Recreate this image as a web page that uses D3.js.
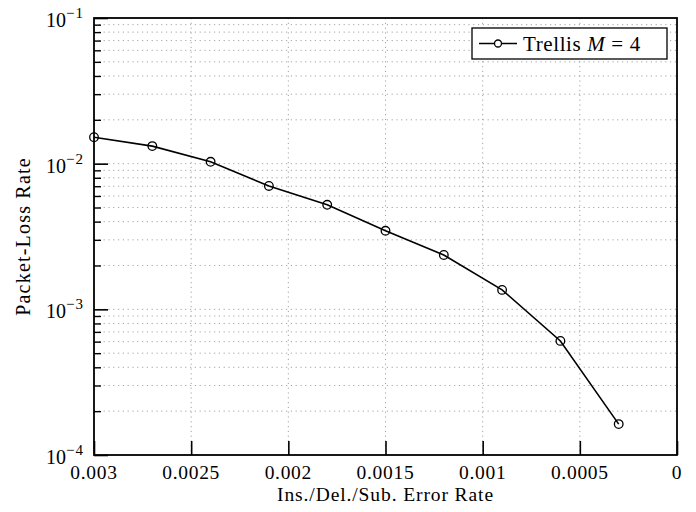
<!DOCTYPE html>
<html>
<head>
<meta charset="utf-8">
<script src="https://cdn.jsdelivr.net/npm/d3@7"></script>
<style>
  body { margin: 0; background: #fff; }
</style>
</head>
<body>
<div id="chart"></div>
<script>
// Chart data
var errorRates = [0.003, 0.0027, 0.0024, 0.0021, 0.0018, 0.0015, 0.0012, 0.0009, 0.0006, 0.0003];
var lossRates = [0.0152, 0.0132, 0.0103, 0.00703, 0.00522, 0.00346, 0.00236, 0.00136, 0.000607, 0.000163];
var seriesName = "Trellis";
var xTicks = [0.003, 0.0025, 0.002, 0.0015, 0.001, 0.0005, 0];
var xTickLabels = ["0.003", "0.0025", "0.002", "0.0015", "0.001", "0.0005", "0"];
var yDecades = [1e-4, 1e-3, 1e-2, 1e-1];
var yExponents = ["−4", "−3", "−2", "−1"];

var FONT = "'Liberation Serif', 'DejaVu Serif', serif";

var svg = d3.select("#chart")
  .append("svg")
  .attr("width", 696)
  .attr("height", 512)
  .attr("font-family", FONT);

var margin = { top: 18, right: 19, bottom: 57, left: 94 };
var width = 696 - margin.left - margin.right;
var height = 512 - margin.top - margin.bottom;

var g = svg.append("g")
  .attr("transform", "translate(" + margin.left + "," + margin.top + ")");

var x = d3.scaleLinear().domain([0.003, 0]).range([0, width]);
var y = d3.scaleLog().domain([1e-4, 1e-1]).range([height, 0]);

// minor log ticks 2..9 in every decade
var yMinor = [];
yDecades.slice(0, 3).forEach(function (d) {
  for (var k = 2; k <= 9; k++) yMinor.push(d * k);
});

// grid lines (dotted)
var grid = g.append("g")
  .attr("stroke", "#9a9a9a")
  .attr("stroke-width", 0.9)
  .attr("stroke-dasharray", "1.2,3.6");

grid.selectAll(".hgrid")
  .data(yMinor.concat(yDecades.slice(1, 3)))
  .enter()
  .append("line")
  .attr("x1", 0)
  .attr("x2", width)
  .attr("y1", function (d) { return y(d); })
  .attr("y2", function (d) { return y(d); });

grid.selectAll(".vgrid")
  .data(xTicks.slice(1, -1))
  .enter()
  .append("line")
  .attr("y1", 0)
  .attr("y2", height)
  .attr("x1", function (d) { return x(d); })
  .attr("x2", function (d) { return x(d); });

// ticks (inward, left and bottom only)
g.append("g")
  .call(d3.axisRight(y).tickValues(yDecades).tickSize(14).tickFormat(""))
  .call(function (a) { a.select(".domain").remove(); })
  .selectAll("line").attr("stroke", "#000").attr("stroke-width", 1.6);

g.append("g")
  .call(d3.axisRight(y).tickValues(yMinor).tickSize(7).tickFormat(""))
  .call(function (a) { a.select(".domain").remove(); })
  .selectAll("line").attr("stroke", "#000").attr("stroke-width", 1.4);

g.append("g")
  .attr("transform", "translate(0," + height + ")")
  .call(d3.axisTop(x).tickValues(xTicks).tickSize(14).tickFormat(""))
  .call(function (a) { a.select(".domain").remove(); })
  .selectAll("line").attr("stroke", "#000").attr("stroke-width", 1.6);

// x tick labels
g.selectAll(".xlabel")
  .data(xTicks)
  .enter()
  .append("text")
  .attr("x", function (d) { return x(d); })
  .attr("y", height + 24)
  .attr("text-anchor", "middle")
  .attr("font-size", "19.5px")
  .attr("letter-spacing", "0.7px")
  .text(function (d, i) { return xTickLabels[i]; });

// y tick labels 10^n
var yl = g.selectAll(".ylabel")
  .data(yDecades)
  .enter()
  .append("text")
  .attr("x", -10)
  .attr("y", function (d) { return y(d) + 9; })
  .attr("text-anchor", "end")
  .attr("font-size", "20px");
yl.append("tspan").text("10");
yl.append("tspan")
  .attr("dy", -9)
  .attr("font-size", "15px")
  .attr("letter-spacing", "1px")
  .text(function (d, i) { return yExponents[i]; });

// frame
g.append("rect")
  .attr("width", width)
  .attr("height", height)
  .attr("fill", "none")
  .attr("stroke", "#000")
  .attr("stroke-width", 1.8);

// data line
var line = d3.line()
  .x(function (d) { return x(d[0]); })
  .y(function (d) { return y(d[1]); });

var pts = d3.zip(errorRates, lossRates);

g.append("path")
  .datum(pts)
  .attr("d", line)
  .attr("fill", "none")
  .attr("stroke", "#000")
  .attr("stroke-width", 1.6);

g.selectAll(".dot")
  .data(pts)
  .enter()
  .append("circle")
  .attr("cx", function (d) { return x(d[0]); })
  .attr("cy", function (d) { return y(d[1]); })
  .attr("r", 4.3)
  .attr("fill", "none")
  .attr("stroke", "#000")
  .attr("stroke-width", 1.3);

// axis titles
svg.append("text")
  .attr("x", margin.left + width / 2)
  .attr("y", 501)
  .attr("text-anchor", "middle")
  .attr("font-size", "19.5px")
  .attr("letter-spacing", "0.9px")
  .text("Ins./Del./Sub. Error Rate");

svg.append("text")
  .attr("transform", "translate(30," + (margin.top + height / 2) + ") rotate(-90)")
  .attr("text-anchor", "middle")
  .attr("font-size", "20px")
  .attr("letter-spacing", "1.2px")
  .text("Packet-Loss Rate");

// legend
var lg = g.append("g").attr("transform", "translate(" + (width - 205) + ",10)");
lg.append("rect")
  .attr("width", 195)
  .attr("height", 31)
  .attr("fill", "#fff")
  .attr("stroke", "#000")
  .attr("stroke-width", 1.3);
lg.append("line")
  .attr("x1", 7).attr("x2", 45)
  .attr("y1", 15.5).attr("y2", 15.5)
  .attr("stroke", "#000").attr("stroke-width", 1.6);
lg.append("circle")
  .attr("cx", 26).attr("cy", 15.5).attr("r", 3.5)
  .attr("fill", "#fff").attr("stroke", "#000").attr("stroke-width", 1.3);
var lt = lg.append("text")
  .attr("x", 51)
  .attr("y", 23)
  .attr("font-size", "21px")
  .attr("letter-spacing", "0.6px");
lt.append("tspan").text(seriesName + " ");
lt.append("tspan").attr("font-style", "italic").text("M");
lt.append("tspan").attr("dx", 6).text("=");
lt.append("tspan").attr("dx", 6).text("4");
</script>
</body>
</html>
